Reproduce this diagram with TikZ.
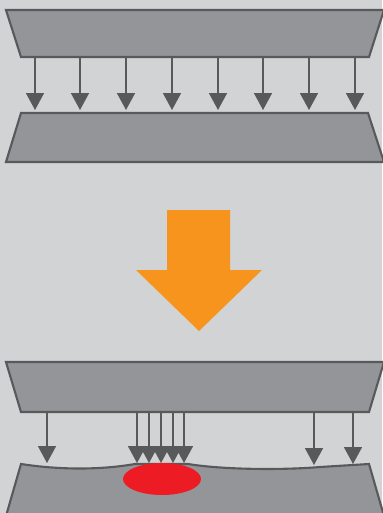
\documentclass[tikz,border=0pt]{standalone}
\usepackage{tikz}
\usetikzlibrary{arrows.meta}
\definecolor{BgGray}{RGB}{209,211,212}
\definecolor{PlateGray}{RGB}{147,149,152}
\definecolor{EdgeGray}{RGB}{88,89,91}
\definecolor{PressOrange}{RGB}{247,148,29}
\definecolor{SpotRed}{RGB}{237,28,36}

\begin{document}
\begin{tikzpicture}[x=0.02cm, y=-0.02cm,
		plate/.style={fill=PlateGray, draw=EdgeGray, line width=1.2pt, line join=miter},
		load/.style={draw=EdgeGray, line width=0.8pt, -{Triangle[width=10.2pt, length=9.6pt]}}]
			\fill[BgGray] (0,0) rectangle (382,513);
			\useasboundingbox (0,0) rectangle (382,513);
			% uniform load
			\draw[plate] (6,10) -- (384,10) -- (369,57) -- (21,57) -- cycle;
			\draw[plate] (21,113) -- (368,113) -- (384,162) -- (6,162) -- cycle;
			\foreach \x in {35,80,126,172,218,263,309,355} {
				\coordinate (S\x) at (\x,57);
				\coordinate (E\x) at (\x,110);
				\draw[load] (S\x) -- (E\x);
			}
			% orange arrow
			\fill[PressOrange] (167,210) -- (230,210) -- (230,270) -- (262,270)
				-- (199,331) -- (136,270) -- (167,270) -- cycle;
			% local load
			\draw[plate] (6,362) -- (384,362) -- (369,412) -- (21,412) -- cycle;
			\draw[plate] (6,516) -- (21,464) .. controls (60,470) and (100,470) .. (135,464)
				-- (188,464) .. controls (225,470) and (285,470) .. (320,467)
				-- (369,464) -- (384,516);
			\fill[SpotRed] (162,479) ellipse (39 and 16);
			\foreach \x/\y in {47/463,137/463,149/463,161/463,173/463,184/463,314/465,353/464} {
				\coordinate (A\x) at (\x,412);
				\coordinate (B\x) at (\x,\y);
				\draw[load] (A\x) -- (B\x);
			}
		\end{tikzpicture}
\end{document}
